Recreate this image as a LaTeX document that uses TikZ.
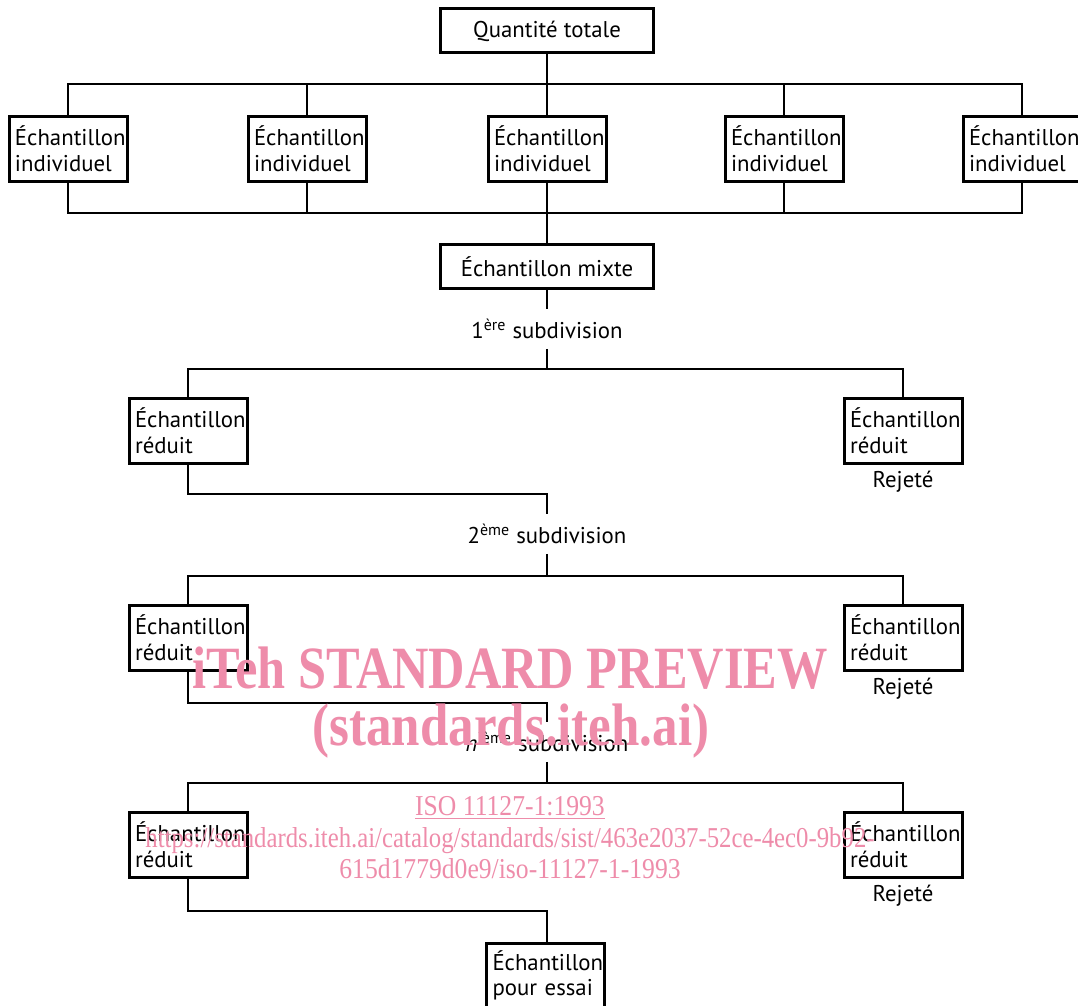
\documentclass[tikz,border=0pt]{standalone}
\usepackage{fontspec}
\setmainfont{PT Sans}
\newfontfamily\wmfont{Liberation Serif}
\usetikzlibrary{positioning}
\definecolor{wmpink}{RGB}{238,140,170}

\begin{document}
\begin{tikzpicture}[x=0.5pt, y=-0.5pt, line width=0.8pt,
    every node/.style={font=\fontsize{11.4}{12.8}\selectfont},
    box/.style={draw, line width=1.5pt, text width=53pt, inner sep=3pt,
        minimum height=32.5pt, align=left},
    wide/.style={draw, line width=1.5pt, minimum width=106.5pt,
        minimum height=22pt, inner sep=3pt},
    sub/.style={inner sep=0pt, minimum height=19pt},
    wm/.style={text=wmpink, anchor=base,
        font=\wmfont\fontsize{30}{30}\selectfont\bfseries},
    wmsmall/.style={text=wmpink, anchor=base,
        font=\wmfont\fontsize{14.4}{14.4}\selectfont}]

    \useasboundingbox (0,0) rectangle (1078,1006);

    % quantite totale -> echantillons individuels -> echantillon mixte
    \node[wide] (qt) at (547,31) {Quantité totale};
    \coordinate (bus1) at (547,84);
    \coordinate (bus2) at (547,213);
    \foreach \x [count=\i] in {68,307,547,784,1022}
        \node[box] (ind\i) at (\x,149) {Échantillon\\individuel};
    \draw (qt) -- (bus1);
    \foreach \i in {1,...,5} {
        \draw (ind\i.north) |- (bus1);
        \draw (ind\i.south) |- (bus2);
    }
    \node[wide] (mix) at (547,266.5) {Échantillon mixte};
    \draw (bus2) -- (mix);

    % 1ere subdivision
    \node[sub] (sub1) at (547,329) {1\textsuperscript{ère} subdivision};
    \coordinate (bus3) at (547,369);
    \draw (mix) -- (sub1);
    \draw (sub1) -- (bus3);
    \node[box] (r1L) at (188,430.5) {Échantillon\\réduit};
    \node[box] (r1R) at (903,430.5) {Échantillon\\réduit};
    \node (rej1) at (903,482) {Rejeté};
    \draw (r1L.north) |- (bus3) -| (r1R.north);

    % 2eme subdivision
    \coordinate (j1) at (547,494);
    \node[sub] (sub2) at (547,534) {2\textsuperscript{ème} subdivision};
    \coordinate (bus4) at (547,576);
    \draw (r1L) |- (j1) -- (sub2);
    \draw (sub2) -- (bus4);
    \node[box] (r2L) at (188,637.5) {Échantillon\\réduit};
    \node[box] (r2R) at (903,637.5) {Échantillon\\réduit};
    \node (rej2) at (903,689) {Rejeté};
    \draw (r2L.north) |- (bus4) -| (r2R.north);

    % n-ieme subdivision
    \coordinate (j2) at (547,703);
    \node[sub] (sub3) at (547,742) {\textit{n}\textsuperscript{ième} subdivision};
    \coordinate (bus5) at (547,783);
    \draw (r2L) |- (j2) -- (sub3);
    \draw (sub3) -- (bus5);
    \node[box] (r3L) at (188,844.5) {Échantillon\\réduit};
    \node[box] (r3R) at (903,844.5) {Échantillon\\réduit};
    \node (rej3) at (903,896) {Rejeté};
    \draw (r3L.north) |- (bus5) -| (r3R.north);

    % echantillon pour essai
    \coordinate (j3) at (547,911);
    \node[box] (essai) at (545.5,975.5) {Échantillon\\pour essai};
    \draw (r3L) |- (j3) -- (j3 |- essai.north);

    % filigrane
    \node[wm] (wm1) at (510,688) {\scalebox{0.84}[1]{iTeh STANDARD PREVIEW}};
    \node[wm] (wm2) at (511,745) {\scalebox{0.85}[1]{(standards.iteh.ai)}};
    \node[wmsmall] (wm3) at (510,815) {\scalebox{0.89}[1]{\underline{ISO 11127-1:1993}}};
    \node[wmsmall] (wm4) at (510,847)
        {\scalebox{0.86}[1]{https://standards.iteh.ai/catalog/standards/sist/463e2037-52ce-4ec0-9b92-}};
    \node[wmsmall] (wm5) at (510,878) {\scalebox{0.89}[1]{615d1779d0e9/iso-11127-1-1993}};

\end{tikzpicture}
\end{document}
